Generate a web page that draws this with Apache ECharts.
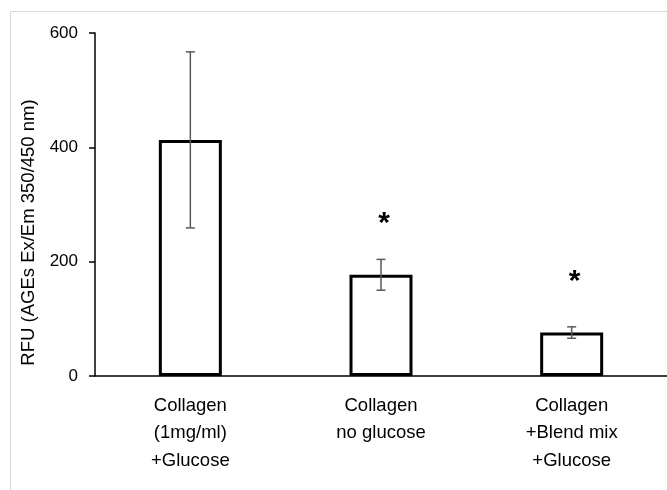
<!DOCTYPE html>
<html>
<head>
<meta charset="utf-8">
<script src="https://cdn.jsdelivr.net/npm/echarts@6/dist/echarts.min.js"></script>
<style>
html,body{margin:0;padding:0;background:#fff;}
#chart{width:667px;height:490px;}
</style>
</head>
<body>
<div id="chart"></div>
<script>
var categories = ['Collagen\n(1mg/ml)\n+Glucose', 'Collagen\nno glucose', 'Collagen\n+Blend mix\n+Glucose'];
var means = [413, 177, 76];
var errLow = [259, 150, 66];
var errHigh = [567, 204, 86];
var significance = ['', '*', '*'];
var yTicks = [0, 200, 400, 600];
var yAxisTitle = 'RFU (AGEs Ex/Em 350/450 nm)';

var FONT = '"Liberation Sans", Arial, sans-serif';
var chart = echarts.init(document.getElementById('chart'), null, {renderer: 'canvas'});

var errData = means.map(function (m, i) { return [i, errLow[i], errHigh[i], m]; });

chart.setOption({
  animation: false,
  backgroundColor: '#fff',
  graphic: [{
    type: 'rect',
    shape: {x: 10.5, y: 11.5, width: 700, height: 520},
    style: {fill: 'none', stroke: '#d9d9d9', lineWidth: 1},
    silent: true, z: -1
  }],
  grid: {left: 95, top: 33, width: 574, height: 343, containLabel: false},
  xAxis: {
    type: 'category',
    data: categories,
    axisLine: {lineStyle: {color: '#000', width: 1.5}},
    axisTick: {show: false},
    axisLabel: {
      color: '#000', fontFamily: FONT, fontSize: 18.5, lineHeight: 27.5, margin: 16, interval: 0
    }
  },
  yAxis: {
    type: 'value',
    min: yTicks[0], max: yTicks[yTicks.length - 1], interval: 200,
    name: yAxisTitle,
    nameLocation: 'middle',
    nameGap: 57,
    nameTextStyle: {color: '#000', fontFamily: FONT, fontSize: 18.5, padding: [0, 56, 0, 0]},
    axisLine: {show: true, lineStyle: {color: '#000', width: 1.5}},
    axisTick: {show: true, inside: false, length: 6, lineStyle: {color: '#000', width: 1.5}},
    splitLine: {show: false},
    axisLabel: {color: '#000', fontFamily: FONT, fontSize: 17, margin: 17}
  },
  series: [{
    type: 'bar',
    data: means,
    barWidth: 63,
    itemStyle: {color: '#fff', borderColor: '#000', borderWidth: 3},
    z: 2
  }, {
    type: 'custom',
    data: errData,
    z: 3,
    renderItem: function (params, api) {
      var x = api.value(0);
      var lo = api.coord([x, api.value(1)]);
      var hi = api.coord([x, api.value(2)]);
      var top = api.coord([x, api.value(3)]);
      var cap = 4.5;
      var stroke = {stroke: '#595959', lineWidth: 1.5};
      var children = [
        {type: 'line', shape: {x1: lo[0], y1: lo[1], x2: hi[0], y2: hi[1]}, style: stroke},
        {type: 'line', shape: {x1: lo[0] - cap, y1: lo[1], x2: lo[0] + cap, y2: lo[1]}, style: stroke},
        {type: 'line', shape: {x1: hi[0] - cap, y1: hi[1], x2: hi[0] + cap, y2: hi[1]}, style: stroke}
      ];
      var sig = significance[params.dataIndex];
      if (sig) {
        children.push({
          type: 'text',
          style: {
            text: sig, x: top[0] + 3, y: top[1] - 51,
            fill: '#000', font: 'bold 30px ' + FONT,
            textAlign: 'center', textVerticalAlign: 'middle'
          }
        });
      }
      return {type: 'group', children: children};
    }
  }]
});
</script>
</body>
</html>
